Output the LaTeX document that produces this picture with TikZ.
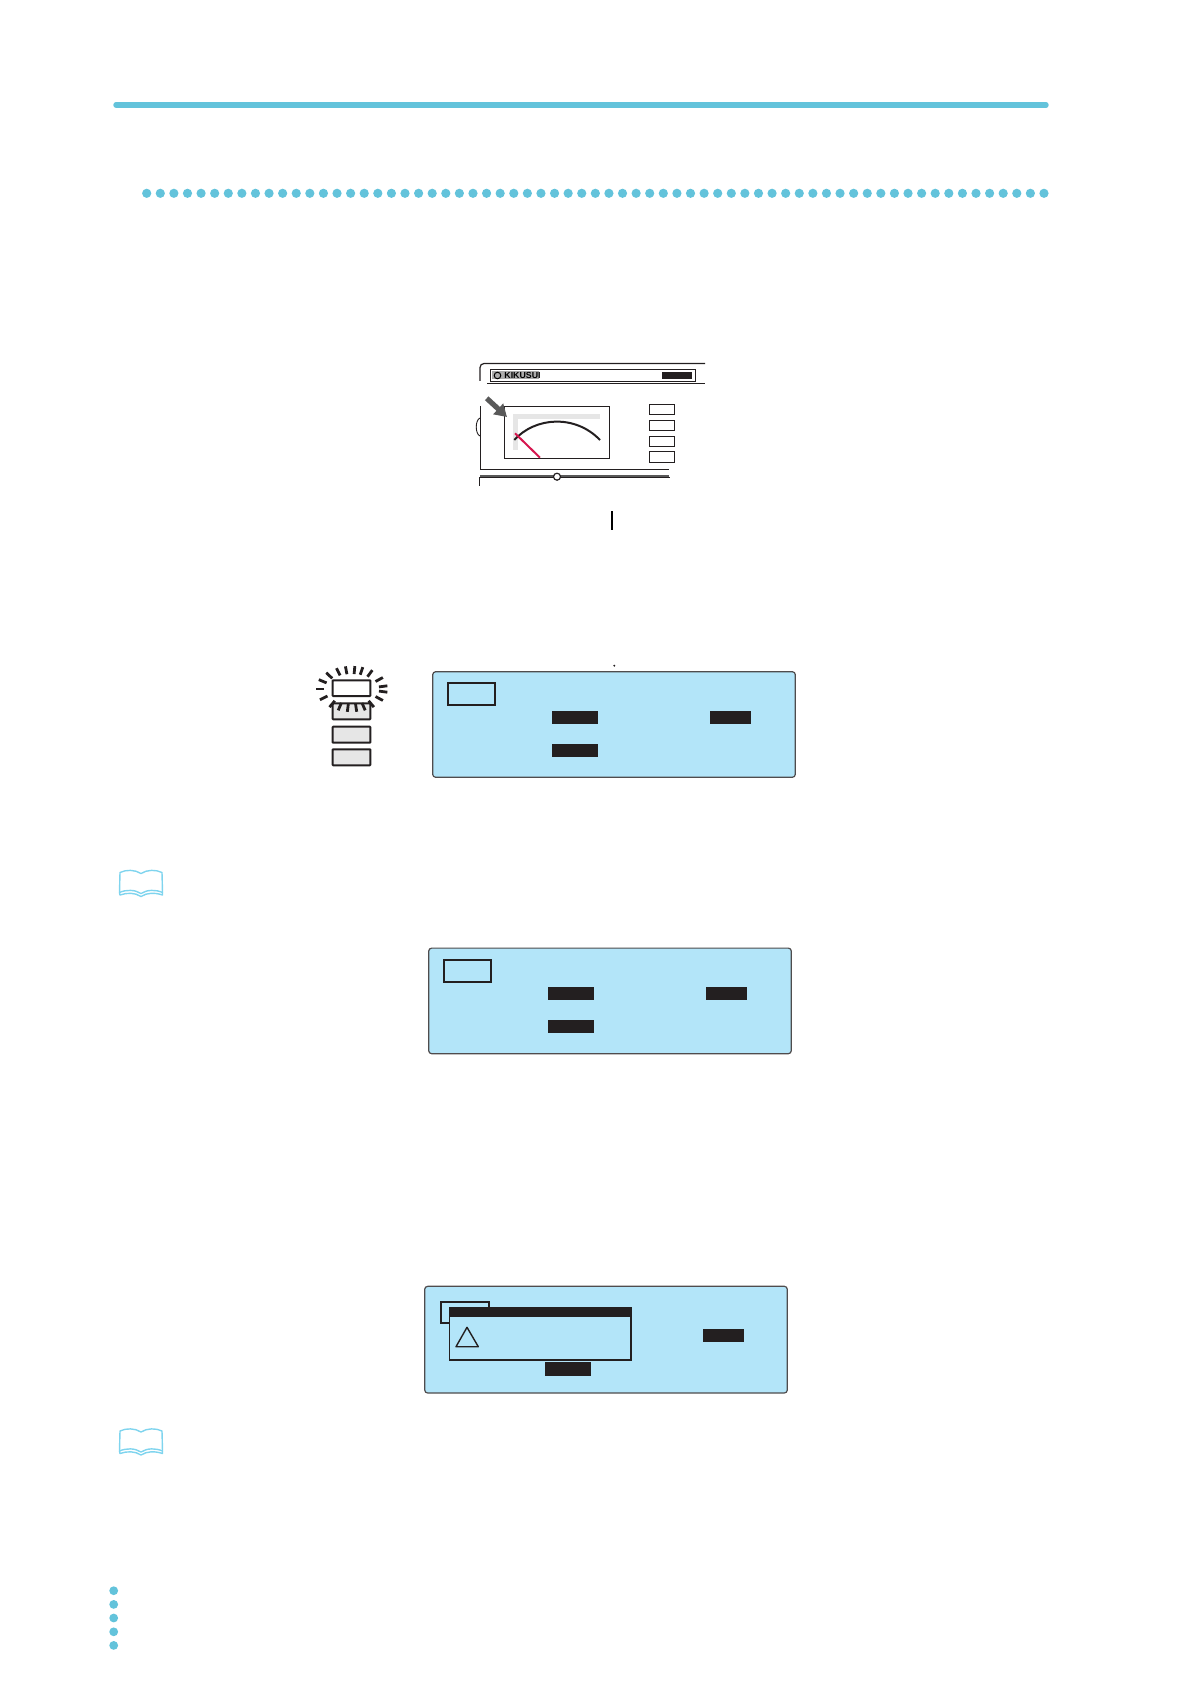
\documentclass[tikz,border=0pt]{standalone}
\usepackage{fontspec}
\setmainfont{Liberation Sans}
\usepackage{xcolor}
\usetikzlibrary{arrows.meta}
\definecolor{tealrule}{HTML}{63C3DB}
\definecolor{lcdblue}{HTML}{B3E5F9}
\definecolor{inkdark}{HTML}{231F20}
\definecolor{keygrey}{HTML}{E6E6E6}
\definecolor{needlered}{HTML}{D6174F}
\definecolor{arrowgrey}{HTML}{595959}
\definecolor{booktint}{HTML}{7FD4EE}

\begin{document}
\begin{tikzpicture}[
    x=0.5pt, y=-0.5pt,
    dotmark/.style={fill=tealrule, draw=none},
    outline/.style={line width=0.6pt, color=inkdark},
    thinline/.style={line width=0.45pt, color=inkdark},
    keybox/.style={line width=0.45pt, color=inkdark, fill=white},
    lcdpanel/.style={fill=lcdblue, draw=inkdark!80, line width=0.6pt, rounded corners=1.5pt},
    softkey/.style={line width=1pt, color=inkdark, fill=keygrey, rounded corners=0.3pt},
    ray/.style={line width=1.4pt, color=inkdark},
    inset/.style={line width=0.9pt, color=inkdark},
    bar/.style={fill=inkdark, draw=none},
    bookline/.style={line width=0.7pt, color=booktint, line join=round}
  ]
  \useasboundingbox (0,0) rectangle (1190,1684);

  % ============ filets du haut ==========================
  \draw[line width=2.7pt, color=tealrule, line cap=round] (116,105) -- (1046,105);
  \foreach \n in {0,...,66}
    \fill[dotmark] ({146.7+13.595*\n},193.3) circle (4.6);

  % ============ face avant de l'appareil ==========================
  \draw[outline, rounded corners=2pt] (480,381) -- (480,363.5) -- (705,363.5);
  \draw[thinline] (490,369.5) rectangle (695.7,381.5);
  \draw[outline] (487,383.3) -- (705,383.3);
  \fill[keygrey!75!black] (492,371.5) rectangle (539,379.5);
  \draw[line width=0.5pt] (497.5,375.5) circle (3.3);
  \node[font=\fontsize{4.4}{4.4}\selectfont\bfseries, inner sep=0pt, anchor=west] (logo) at (504,375.5) {KIKUSUI};
  \fill[bar] (662,372) rectangle (692,379);

  \draw[outline] (480.7,406) -- (480.7,469.3) -- (669,469.3);
  \draw[thinline] (480,418) .. controls (475,420) and (475,434) .. (480,436);
  \draw[line width=1.1pt, color=arrowgrey] (480,476) -- (669,476);
  \draw[outline] (480,477.7) -- (670,477.7);
  \draw[outline] (479.5,477) -- (479.5,486);
  \draw[outline, fill=white] (557,476.7) circle (3.5);

  % ecran
  \draw[thinline] (504.3,406) rectangle (609.3,458.3);
  \fill[keygrey] (513.3,414) rectangle (600,419);
  \fill[keygrey] (513.3,414) rectangle (518,450);
  \draw[line width=1pt, color=inkdark] (514.3,440) .. controls (535,417) and (575,414) .. (600,440);
  \draw[line width=1pt, color=needlered] (515,433.3) -- (540,457.7);
  \draw[-{Triangle[length=6pt, width=7pt]}, line width=2.6pt, color=arrowgrey] (486.7,398.3) -- (507,417);

  \foreach \ytop/\ybot in {404.3/414.7, 420.3/430.7, 436/446.7, 451.7/462.7}
    \draw[keybox] (649.3,\ytop) rectangle (674.3,\ybot);

  \draw[line width=1pt, color=black] (612,511) -- (612,530);

  % ============ touches et voyant ==========================
  \fill[inkdark] (614.3,665.7) circle (1.1);
  \foreach \ytop/\ybot/\tint in {680.3/696/white, 703.3/719.3/keygrey, 726.7/742.7/keygrey, 749.3/765.3/keygrey}
    \draw[softkey, fill=\tint] (332.7,\ytop) rectangle (370.3,\ybot);
  \foreach \a in {225,245,260,275,288,305,330,352,8,30,52,68,82,97,112,128,152,180,204}
    \draw[ray] ({351.7+27.5*cos(\a)},{689+15*sin(\a)}) -- ({351.7+36*cos(\a)},{689+23*sin(\a)});

  % ============ ecrans LCD ==========================
  \foreach \dx/\dy in {0/0, -4/276.4}{
    \begin{scope}[xshift=\dx*0.5pt, yshift=-\dy*0.5pt]
      \draw[lcdpanel] (432.7,671.7) rectangle (795.3,777.3);
      \draw[inset] (447.7,683.3) rectangle (495.3,705.3);
      \fill[bar] (552,711) rectangle (598,723.7);
      \fill[bar] (710,711) rectangle (751,723.7);
      \fill[bar] (552,744) rectangle (598,756.7);
    \end{scope}
  }

  % ecran avec la boite de dialogue
  \draw[lcdpanel] (424.7,1286.3) rectangle (787.3,1393);
  \draw[inset] (440.7,1301.7) rectangle (488.7,1323.3);
  \draw[outline, fill=lcdblue, line width=0.8pt] (449.3,1307.3) rectangle (630.7,1360);
  \fill[bar] (449.3,1307.3) rectangle (630.7,1316.7);
  \draw[outline, line join=round, line width=0.7pt] (467,1327.3) -- (456,1346.7) -- (478.3,1346.7) -- cycle;
  \fill[bar] (703,1329) rectangle (744,1341.7);
  \fill[bar] (545,1362.3) rectangle (591,1375.7);

  % ============ icones livre ==========================
  \foreach \dy in {1.5,560}{
    \begin{scope}[yshift=-\dy*0.5pt]
      \draw[bookline] (141,872) .. controls (135,868) and (126,868) .. (120,871) -- (119.5,891)
        .. controls (126,888) and (135,888) .. (141,892)
        .. controls (147,888) and (156,888) .. (162.5,891) -- (162,871)
        .. controls (156,868) and (147,868) .. (141,872);
      \draw[bookline] (119.5,891) -- (120,893.5) .. controls (127,891) and (135,891) .. (141,895)
        .. controls (147,891) and (155,891) .. (162.5,893.5) -- (162.5,891);
    \end{scope}
  }

  % ============ points en bas de page ==========================
  \foreach \y in {1590.7,1604.4,1618,1631.8,1645.4}
    \fill[dotmark] (113.7,\y) circle (4.4);

\end{tikzpicture}
\end{document}
